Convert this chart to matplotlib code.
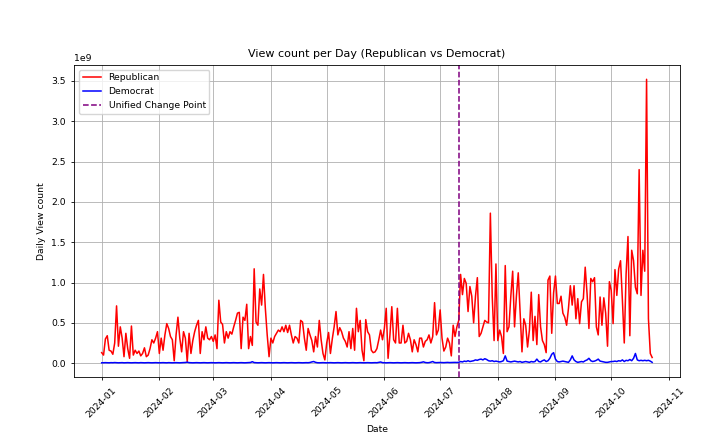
import matplotlib
matplotlib.use("Agg")
import matplotlib.pyplot as plt
import pandas as pd

start_date = "2024-01-01"
end_date = "2024-10-23"
change_point = "2024-07-11"

# Republican daily view counts (units of 1e9), Jan 1 .. Oct 23
rep_jan = [0.13,0.10,0.30,0.34,0.16,0.15,0.11,0.25,0.71,0.21,0.45,0.31,0.08,0.37,0.18,0.06,
           0.46,0.10,0.16,0.12,0.15,0.09,0.12,0.19,0.08,0.10,0.18,0.29,0.25,0.31,0.39]
rep_feb = [0.12,0.31,0.16,0.35,0.49,0.43,0.33,0.29,0.03,0.35,0.57,0.31,0.14,0.39,0.31,0.02,
           0.37,0.12,0.28,0.39,0.47,0.53,0.12,0.39,0.29,0.45,0.31,0.29,0.33]
rep_mar = [0.27,0.35,0.18,0.78,0.51,0.48,0.25,0.39,0.31,0.39,0.36,0.45,0.53,0.62,0.63,0.18,
           0.57,0.53,0.73,0.18,0.33,0.22,1.17,0.51,0.47,0.92,0.72,1.10,0.68,0.35,0.08]
rep_apr = [0.31,0.25,0.33,0.37,0.41,0.39,0.45,0.39,0.47,0.38,0.47,0.35,0.25,0.33,0.31,0.25,
           0.53,0.51,0.31,0.16,0.43,0.35,0.28,0.14,0.33,0.20,0.53,0.29,0.12,0.04]
rep_may = [0.25,0.38,0.12,0.30,0.45,0.64,0.35,0.44,0.39,0.31,0.27,0.20,0.39,0.18,0.43,0.16,
           0.68,0.39,0.53,0.16,0.03,0.54,0.39,0.35,0.16,0.13,0.14,0.18,0.29,0.41,0.29]
rep_jun = [0.43,0.68,0.06,0.35,0.70,0.29,0.25,0.68,0.25,0.25,0.47,0.25,0.27,0.37,0.29,0.14,
           0.29,0.23,0.14,0.31,0.31,0.20,0.27,0.29,0.35,0.25,0.33,0.75,0.35,0.41]
rep_jul = [0.66,0.31,0.15,0.20,0.31,0.25,0.09,0.47,0.33,0.45,0.53,1.10,0.85,1.05,0.99,0.64,
           0.95,0.83,0.50,0.83,1.06,0.33,0.37,0.45,0.53,0.51,0.50,1.86,0.83,0.28,1.23]
rep_aug = [0.28,0.41,0.33,0.12,1.21,0.39,0.45,0.83,1.14,0.45,0.83,1.12,0.62,0.14,0.55,0.47,
           0.20,0.41,0.88,0.28,0.58,0.23,0.85,0.45,0.28,0.23,0.13,1.03,1.08,0.37,0.87]
rep_sep = [1.08,0.74,0.74,0.83,0.62,0.57,0.47,0.68,0.96,0.72,0.96,0.55,0.80,0.49,0.76,0.80,
           1.19,0.86,0.43,1.05,1.01,1.06,0.45,0.35,0.82,0.47,0.81,0.62,0.21,1.01]
rep_oct = [0.90,0.49,1.16,0.84,1.17,1.27,0.78,0.25,1.11,1.57,0.34,1.40,1.27,0.94,0.86,2.40,
           0.84,1.40,1.14,3.52,0.55,0.12,0.07]

# Democrat daily view counts (units of 1e9)
dem_jan = [0.004,0.005,0.006,0.005,0.004,0.006,0.005,0.007,0.005,0.004,0.005,0.006,0.004,0.005,
           0.006,0.005,0.004,0.005,0.006,0.005,0.004,0.006,0.005,0.004,0.005,0.006,0.005,0.004,
           0.005,0.006,0.005]
dem_feb = [0.004,0.005,0.006,0.005,0.004,0.006,0.005,0.004,0.005,0.006,0.005,0.004,0.005,0.006,
           0.008,0.012,0.006,0.005,0.004,0.005,0.006,0.005,0.004,0.005,0.006,0.005,0.004,0.005,
           0.006]
dem_mar = [0.005,0.004,0.005,0.006,0.005,0.004,0.005,0.006,0.005,0.004,0.005,0.006,0.005,0.004,
           0.005,0.006,0.005,0.004,0.005,0.006,0.008,0.018,0.007,0.005,0.004,0.005,0.006,0.005,
           0.004,0.005,0.006]
dem_apr = [0.005,0.004,0.005,0.006,0.005,0.004,0.005,0.006,0.005,0.004,0.005,0.006,0.005,0.004,
           0.005,0.006,0.005,0.004,0.005,0.006,0.005,0.008,0.015,0.020,0.010,0.005,0.004,0.005,
           0.006,0.005]
dem_may = [0.004,0.005,0.006,0.005,0.004,0.005,0.006,0.005,0.004,0.005,0.006,0.005,0.004,0.005,
           0.006,0.005,0.004,0.005,0.006,0.005,0.004,0.005,0.006,0.005,0.004,0.005,0.006,0.005,
           0.010,0.014,0.006]
dem_jun = [0.005,0.004,0.005,0.006,0.005,0.004,0.005,0.006,0.005,0.004,0.005,0.006,0.005,0.004,
           0.005,0.006,0.005,0.004,0.005,0.006,0.010,0.016,0.008,0.005,0.006,0.012,0.020,0.008,
           0.006,0.007]
dem_jul = [0.008,0.007,0.006,0.008,0.009,0.007,0.008,0.010,0.009,0.008,0.010,0.020,0.015,0.025,
           0.020,0.030,0.020,0.025,0.030,0.040,0.035,0.045,0.050,0.040,0.055,0.045,0.030,0.025,
           0.030,0.020,0.025]
dem_aug = [0.020,0.015,0.020,0.030,0.090,0.025,0.020,0.015,0.020,0.025,0.020,0.015,0.020,0.010,
           0.015,0.020,0.015,0.010,0.020,0.015,0.020,0.050,0.020,0.015,0.030,0.040,0.020,0.030,
           0.060,0.110,0.130]
dem_sep = [0.050,0.020,0.015,0.020,0.025,0.020,0.015,0.010,0.040,0.090,0.040,0.020,0.010,0.015,
           0.020,0.015,0.030,0.040,0.060,0.030,0.020,0.025,0.035,0.050,0.025,0.020,0.015,0.010,
           0.010,0.015]
dem_oct = [0.020,0.020,0.025,0.020,0.030,0.025,0.040,0.020,0.035,0.030,0.045,0.030,0.060,0.120,
           0.040,0.030,0.035,0.030,0.035,0.030,0.035,0.025,0.010]

republican = rep_jan + rep_feb + rep_mar + rep_apr + rep_may + rep_jun + rep_jul + rep_aug + rep_sep + rep_oct
democrat = dem_jan + dem_feb + dem_mar + dem_apr + dem_may + dem_jun + dem_jul + dem_aug + dem_sep + dem_oct
dates = pd.date_range(start_date, end_date, freq="D")

plt.rcParams["font.family"] = ["DejaVu Sans"]
plt.rcParams["font.size"] = 6.7

fig = plt.figure(figsize=(7.2, 4.43), dpi=100)
ax = fig.add_subplot(111)
fig.subplots_adjust(left=0.103, right=0.944, bottom=0.149, top=0.853)

ax.plot(dates, [v * 1e9 for v in republican], color="red", lw=1.1, label="Republican")
ax.plot(dates, [v * 1e9 for v in democrat], color="blue", lw=1.1, label="Democrat")
ax.axvline(pd.Timestamp(change_point), color="purple", ls="--", lw=1.1, label="Unified Change Point")

ax.set_title("View count per Day (Republican vs Democrat)", fontsize=8.0)
ax.set_xlabel("Date")
ax.set_ylabel("Daily View count")
ax.grid(True, lw=0.6)
ax.legend(loc="upper left")
for lab in ax.get_xticklabels():
    lab.set_rotation(45)
for s in ax.spines.values():
    s.set_linewidth(0.6)
ax.tick_params(width=0.6, length=2.5)

fig.savefig("out.png", dpi=100)
